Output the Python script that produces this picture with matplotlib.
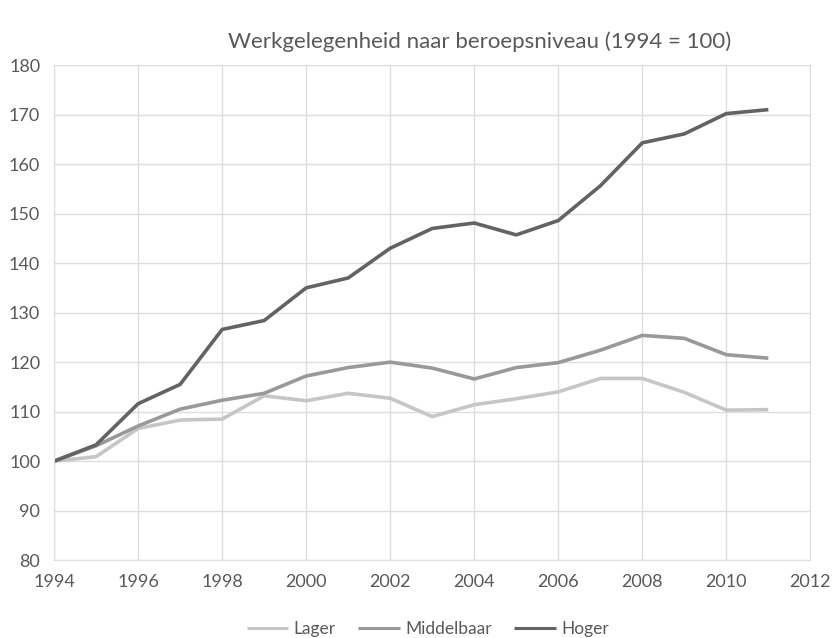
import matplotlib
matplotlib.use("Agg")
import matplotlib.pyplot as plt

years = list(range(1994, 2012))
lager = [100, 100.9, 106.6, 108.3, 108.5, 113.2, 112.2, 113.7, 112.7, 109.0,
         111.4, 112.6, 114.0, 116.7, 116.7, 113.9, 110.3, 110.4]
middelbaar = [100, 103.1, 107.1, 110.5, 112.3, 113.7, 117.2, 118.9, 120.0, 118.8,
              116.6, 118.9, 119.9, 122.4, 125.4, 124.8, 121.5, 120.8]
hoger = [100, 103.3, 111.6, 115.5, 126.6, 128.4, 135.0, 137.0, 143.0, 147.0,
         148.1, 145.7, 148.6, 155.6, 164.3, 166.1, 170.2, 171.0]

series = [("Lager", lager, "#c6c6c6"),
          ("Middelbaar", middelbaar, "#999999"),
          ("Hoger", hoger, "#636363")]

plt.rcParams['font.family'] = ['Lato', 'DejaVu Sans']
text_color = "#595959"

fig = plt.figure(figsize=(8.32, 6.38), dpi=100)
ax = fig.add_axes([0.065, 0.122, 0.909, 0.776])

for name, vals, col in series:
    ax.plot(years, vals, color=col, linewidth=2.6, label=name, solid_capstyle='butt')

ax.set_xlim(1994, 2012)
ax.set_ylim(80, 180)
ax.set_xticks(range(1994, 2013, 2))
ax.set_yticks(range(80, 181, 10))
ax.grid(True, color="#dedede", linewidth=1)
ax.set_axisbelow(True)
for s in ax.spines.values():
    s.set_color("#dedede")
ax.tick_params(length=0, labelsize=13, colors=text_color, pad=10)

fig.text(0.577, 0.935, "Werkgelegenheid naar beroepsniveau (1994 = 100)",
         ha='center', va='center', fontsize=16, color=text_color)

leg = fig.legend(loc='center', bbox_to_anchor=(0.514, 0.0135), ncol=3, frameon=False,
                 fontsize=12.5, handlelength=2.4, columnspacing=1.3, handletextpad=0.3)
for t in leg.get_texts():
    t.set_color(text_color)
for h in leg.get_lines():
    h.set_linewidth(2.2)

fig.savefig("out.png", dpi=100)
